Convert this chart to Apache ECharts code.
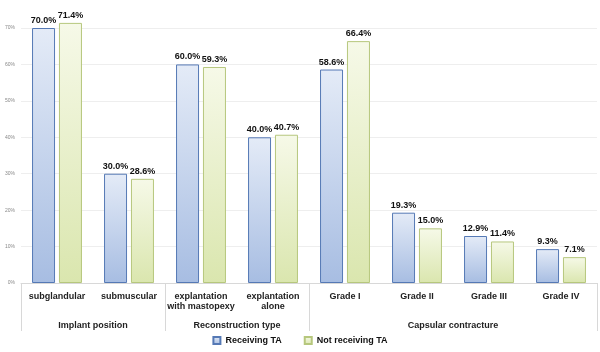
<!DOCTYPE html>
<html>
<head>
<meta charset="utf-8">
<script src="https://cdn.jsdelivr.net/npm/echarts@6/dist/echarts.min.js"></script>
<style>
  html, body { margin: 0; padding: 0; background: #fff; }
  #chart { width: 600px; height: 352px; }
</style>
</head>
<body>
<div id="chart"></div>
<script>
const categories = ['subglandular', 'submuscular', 'explantation\nwith mastopexy', 'explantation\nalone',
  'Grade I', 'Grade II', 'Grade III', 'Grade IV'];
const receiving = [70.0, 30.0, 60.0, 40.0, 58.6, 19.3, 12.9, 9.3];
const notReceiving = [71.4, 28.6, 59.3, 40.7, 66.4, 15.0, 11.4, 7.1];
const groups = ['Implant position', 'Reconstruction type', 'Capsular contracture'];
const groupSpans = [2, 2, 4];

// group boundaries and centres, in category units
const groupEdges = [0];
const groupCenters = [];
let pos = 0;
groupSpans.forEach(span => {
  groupCenters.push(pos + span / 2);
  pos += span;
  groupEdges.push(pos);
});

const font = 'Liberation Sans, Arial, sans-serif';

function grad(top, bottom) {
  return new echarts.graphic.LinearGradient(0, 0, 0, 1, [
    { offset: 0, color: top },
    { offset: 1, color: bottom }
  ]);
}

const chart = echarts.init(document.getElementById('chart'), null, { renderer: 'canvas' });

const barLabel = {
  show: true,
  position: 'top',
  distance: 3,
  fontFamily: font,
  fontWeight: 'bold',
  fontSize: 9,
  color: '#111',
  formatter: p => p.value.toFixed(1) + '%'
};

chart.setOption({
  animation: false,
  backgroundColor: '#fff',
  grid: { left: 21, right: 3, top: 28, bottom: 69 },
  legend: {
    bottom: 2,
    left: 'center',
    itemWidth: 7,
    itemHeight: 7,
    itemGap: 22,
    icon: 'rect',
    textStyle: { fontFamily: font, fontWeight: 'bold', fontSize: 9, color: '#111' },
    data: ['Receiving TA', 'Not receiving TA']
  },
  xAxis: [
    {
      type: 'category',
      data: categories,
      axisLine: { lineStyle: { color: '#d8d8d8' } },
      axisTick: { show: false },
      axisLabel: {
        interval: 0,
        margin: 9,
        fontFamily: font,
        fontWeight: 'bold',
        fontSize: 9,
        lineHeight: 10,
        color: '#222'
      }
    },
    {
      type: 'value',
      position: 'bottom',
      min: 0,
      max: categories.length,
      axisLine: { show: false },
      splitLine: { show: false },
      axisTick: {
        customValues: groupEdges,
        length: 48,
        lineStyle: { color: '#d8d8d8' }
      },
      axisLabel: {
        customValues: groupCenters,
        margin: 38,
        fontFamily: font,
        fontWeight: 'bold',
        fontSize: 9,
        color: '#222',
        formatter: v => groups[groupCenters.indexOf(v)] || ''
      }
    }
  ],
  yAxis: {
    type: 'value',
    min: 0,
    max: 70,
    interval: 10,
    axisLine: { show: false },
    axisTick: { show: false },
    axisLabel: {
      fontFamily: font,
      fontSize: 5,
      color: '#888',
      margin: 6,
      formatter: '{value}%'
    },
    splitLine: { lineStyle: { color: '#eeeeee' } }
  },
  series: [
    {
      name: 'Receiving TA',
      type: 'bar',
      data: receiving,
      clip: false,
      barWidth: 23,
      barGap: '17%',
      itemStyle: { color: grad('#e4ebf7', '#a7bde2'), borderColor: '#5579b5', borderWidth: 1 },
      label: barLabel
    },
    {
      name: 'Not receiving TA',
      type: 'bar',
      data: notReceiving,
      clip: false,
      barWidth: 23,
      itemStyle: { color: grad('#f6f9e8', '#dae6ae'), borderColor: '#b6c77d', borderWidth: 1 },
      label: barLabel
    }
  ]
});
</script>
</body>
</html>
